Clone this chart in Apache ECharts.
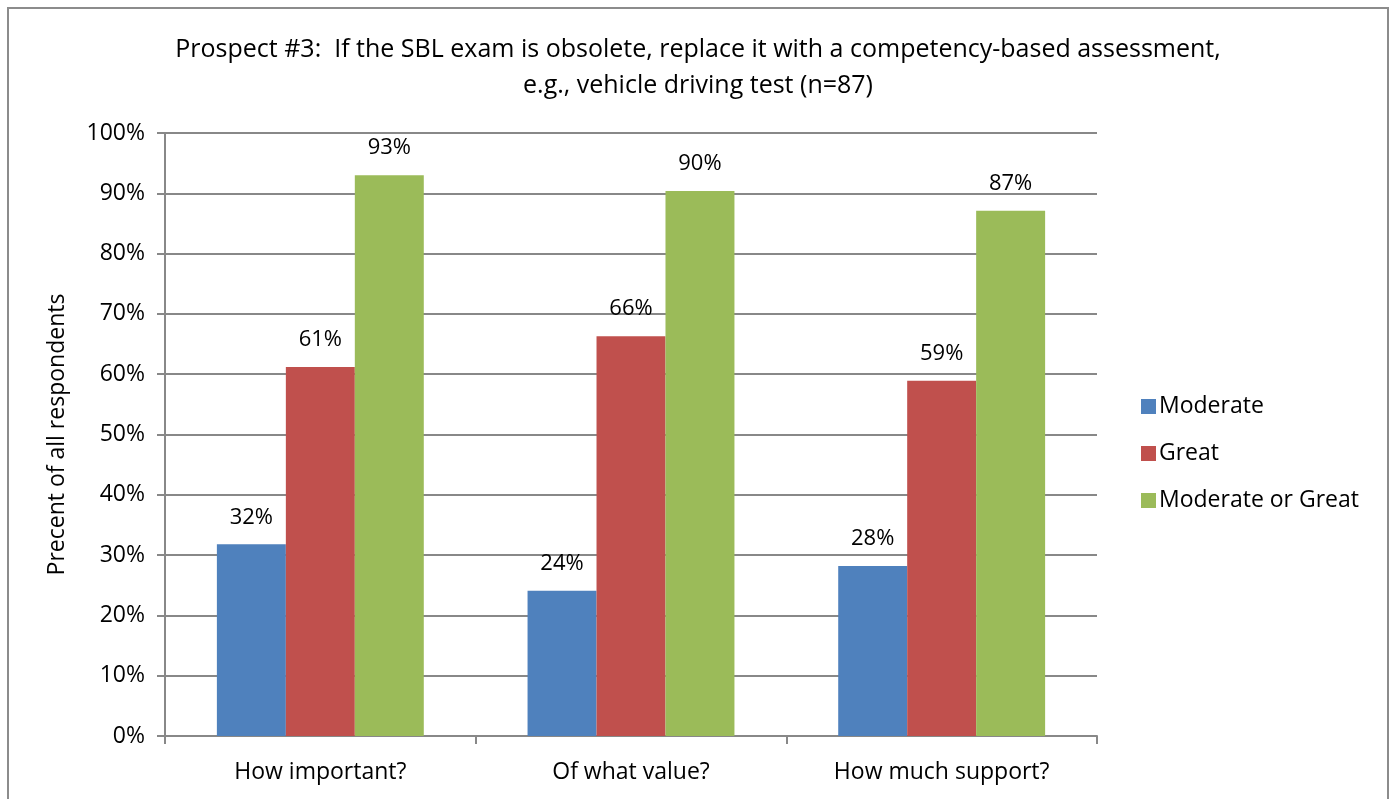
<!DOCTYPE html>
<html>
<head>
<meta charset="utf-8">
<script src="https://cdn.jsdelivr.net/npm/echarts@6/dist/echarts.min.js"></script>
<style>
html, body { margin: 0; padding: 0; background: #fff; }
#frame { position: absolute; left: 7px; top: 7px; width: 1382px; height: 800px; border: 2px solid #8c8c8c; box-sizing: border-box; }
#chart { width: 1391px; height: 799px; position: absolute; left: 0; top: 0; }
</style>
</head>
<body>
<div id="frame"></div>
<div id="chart"></div>
<script>
// data
var categories = ['How important?', 'Of what value?', 'How much support?'];
var moderate = [31.8, 24.1, 28.2];
var great = [61.2, 66.3, 58.9];
var moderateOrGreat = [93.0, 90.4, 87.1];
var seriesNames = ['Moderate', 'Great', 'Moderate or Great'];
var colors = ['#4F81BD', '#C0504D', '#9BBB59'];

var font = '"Open Sans", "Noto Sans", sans-serif';

var chart = echarts.init(document.getElementById('chart'));

function barSeries(name, data, color) {
    return {
        name: name,
        type: 'bar',
        data: data,
        barGap: '0%',
        barCategoryGap: '33.4%',
        itemStyle: { color: color },
        label: {
            show: true,
            position: 'top',
            distance: 16,
            fontFamily: font,
            fontSize: 22,
            color: '#000',
            formatter: function (p) { return Math.round(p.value) + '%'; }
        }
    };
}

chart.setOption({
    animation: false,
    textStyle: { fontFamily: font },
    title: {
        text: 'Prospect #3:  If the SBL exam is obsolete, replace it with a competency-based assessment,\ne.g., vehicle driving test (n=87)',
        left: 693,
        textAlign: 'center',
        top: 27,
        textStyle: { fontFamily: font, fontSize: 25, fontWeight: 'normal', color: '#000', lineHeight: 36 }
    },
    legend: {
        orient: 'vertical',
        left: 1136,
        top: 390,
        itemWidth: 15,
        itemHeight: 15,
        itemGap: 24,
        icon: 'rect',
        textStyle: { fontFamily: font, fontSize: 23, color: '#000', padding: [0, 0, 0, -2] },
        data: seriesNames
    },
    grid: { left: 165, right: 294, top: 133, bottom: 63 },
    xAxis: {
        type: 'category',
        data: categories,
        axisLine: { lineStyle: { color: '#888', width: 2 } },
        axisTick: { show: true, length: 8, lineStyle: { color: '#888', width: 2 } },
        axisLabel: { fontFamily: font, fontSize: 23, color: '#000', margin: 25 }
    },
    yAxis: {
        type: 'value',
        min: 0,
        max: 100,
        interval: 10,
        name: 'Precent of all respondents',
        nameLocation: 'middle',
        nameGap: 96,
        nameTextStyle: { fontFamily: font, fontSize: 23, color: '#000' },
        axisLine: { show: true, lineStyle: { color: '#888', width: 2 } },
        axisTick: { show: true, length: 8, lineStyle: { color: '#888', width: 2 } },
        axisLabel: { fontFamily: font, fontSize: 23, color: '#000', margin: 20, formatter: '{value}%' },
        splitLine: { lineStyle: { color: '#888', width: 2 } }
    },
    series: [
        barSeries(seriesNames[0], moderate, colors[0]),
        barSeries(seriesNames[1], great, colors[1]),
        barSeries(seriesNames[2], moderateOrGreat, colors[2])
    ]
});
</script>
</body>
</html>
